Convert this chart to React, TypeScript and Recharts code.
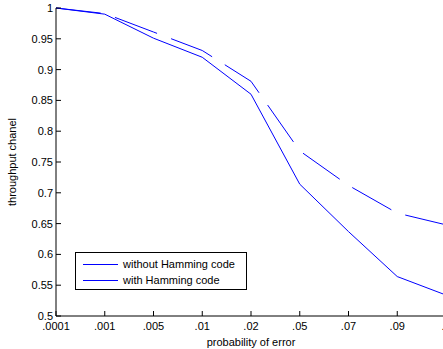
import React from "react";
import { LineChart, Line, XAxis, YAxis } from "recharts";

const errorProbs = [".0001", ".001", ".005", ".01", ".02", ".05", ".07", ".09", ".1"];
const withoutHamming = [1, 0.99, 0.951, 0.92, 0.86, 0.714, 0.637, 0.564, 0.534];
const withHamming = [1, 0.991, 0.961, 0.931, 0.881, 0.768, 0.712, 0.667, 0.648];
const yTicks = [0.5, 0.55, 0.6, 0.65, 0.7, 0.75, 0.8, 0.85, 0.9, 0.95, 1];
const seriesNames = ["without Hamming code", "with Hamming code"];

const rows = errorProbs.map((p, i) => ({
  p,
  without: withoutHamming[i],
  with: withHamming[i],
}));

const FONT = "'Liberation Sans', Arial, sans-serif";
const BLUE = "#0000ff";

const LeftTick = (props: any) => {
  const { x, y, payload } = props;
  return (
    <g>
      <line x1={x} x2={x + 5} y1={y} y2={y} stroke="#000" />
      <text x={x - 3} y={y + 4} textAnchor="end" fontSize={11} fontFamily={FONT} fill="#000">
        {String(payload.value)}
      </text>
    </g>
  );
};

const RightTick = (props: any) => {
  const { x, y } = props;
  return <line x1={x} x2={x - 5} y1={y} y2={y} stroke="#000" />;
};

const BottomTick = (props: any) => {
  const { x, y, payload } = props;
  return (
    <g>
      <line x1={x} x2={x} y1={y} y2={y - 5} stroke="#000" />
      <text x={x} y={y + 14} textAnchor="middle" fontSize={11} fontFamily={FONT} fill="#000">
        {payload.value}
      </text>
    </g>
  );
};

const TopTick = (props: any) => {
  const { x, y } = props;
  return <line x1={x} x2={x} y1={y} y2={y + 5} stroke="#000" />;
};

const LegendBox = () => (
  <div
    style={{
      position: "absolute",
      left: 75,
      top: 252,
      border: "1px solid #000",
      background: "#fff",
      width: 172,
      height: 38,
      fontFamily: FONT,
      fontSize: 11,
      boxSizing: "border-box",
      padding: "3px 0 0 7px",
    }}
  >
    {seriesNames.map((t) => (
      <div key={t} style={{ display: "flex", alignItems: "center", height: 16 }}>
        <span style={{ display: "inline-block", width: 35, height: 0, borderTop: `1px solid ${BLUE}`, marginRight: 5 }} />
        <span>{t}</span>
      </div>
    ))}
  </div>
);

export default function App() {
  return (
    <div style={{ position: "absolute", left: 0, top: 0, width: 443, height: 349, overflow: "hidden", background: "#fff" }}>
      <LineChart width={447} height={349} data={rows} margin={{ top: 8, right: 1, left: 0, bottom: 0 }}>
        <XAxis
          dataKey="p"
          xAxisId={0}
          height={33}
          interval={0}
          tickSize={0}
          tickMargin={0}
          tickLine={false}
          axisLine={{ stroke: "#000" }}
          tick={<BottomTick />}
          label={{ value: "probability of error", position: "insideBottom", offset: 3, fontSize: 11, fontFamily: FONT, fill: "#000" }}
        />
        <XAxis
          dataKey="p"
          xAxisId="top"
          orientation="top"
          height={0}
          interval={0}
          tickSize={0}
          tickMargin={0}
          tickLine={false}
          axisLine={{ stroke: "#000" }}
          tick={<TopTick />}
        />
        <YAxis
          yAxisId={0}
          width={56}
          type="number"
          domain={[0.5, 1]}
          ticks={yTicks}
          interval={0}
          tickSize={0}
          tickMargin={0}
          tickLine={false}
          axisLine={{ stroke: "#000" }}
          tick={<LeftTick />}
          label={{ value: "throughput chanel", angle: -90, position: "insideLeft", offset: 12, fontSize: 11, fontFamily: FONT, fill: "#000", style: { textAnchor: "middle" } }}
        />
        <YAxis
          yAxisId="right"
          orientation="right"
          width={0}
          type="number"
          domain={[0.5, 1]}
          ticks={yTicks}
          interval={0}
          tickSize={0}
          tickMargin={0}
          tickLine={false}
          axisLine={{ stroke: "#000" }}
          tick={<RightTick />}
        />
        <Line
          dataKey="without"
          name={seriesNames[0]}
          stroke={BLUE}
          strokeWidth={1}
          dot={false}
          type="linear"
          isAnimationActive={false}
        />
        <Line
          dataKey="with"
          name={seriesNames[1]}
          stroke={BLUE}
          strokeWidth={1}
          strokeDasharray="45 15"
          dot={false}
          type="linear"
          isAnimationActive={false}
        />
      </LineChart>
      <LegendBox />
    </div>
  );
}
